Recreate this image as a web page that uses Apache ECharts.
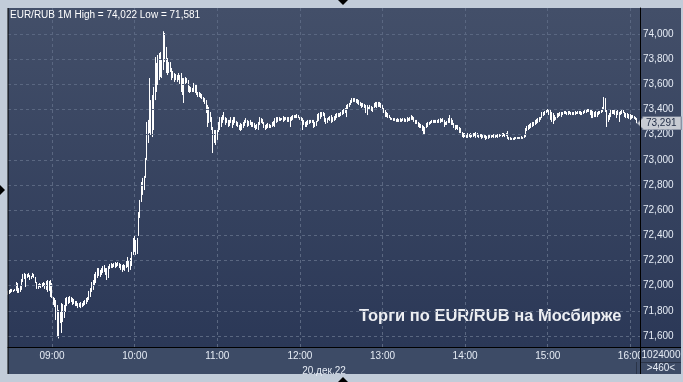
<!DOCTYPE html>
<html><head><meta charset="utf-8">
<script src="https://cdn.jsdelivr.net/npm/echarts@6/dist/echarts.min.js"></script>
<style>html,body{margin:0;padding:0;background:#c2ccd9;}#c{width:683px;height:382px;}</style>
</head><body><div id="c"></div>
<script>
// ---- data ----
const titleText = 'EUR/RUB 1M High = 74,022 Low = 71,581';
const dateLabel = '20.дек.22';
const watermark = 'Торги по EUR/RUB на Мосбирже';
const startTime = '08:28';
const barCount = 460;
const hourLabels = ['09:00','10:00','11:00','12:00','13:00','14:00','15:00','16:00'];
const yTicks = [71600,71800,72000,72200,72400,72600,72800,73000,73200,73400,73600,73800,74000];
const volumeText = '1024000';
const barsText = '>460<';
const lastPrice = 73291;

const highs = [
71958,71966,71974,71974,71966,71974,72029,72021,71981,71997,
72053,72093,72101,72093,72093,72101,72085,72077,72101,72093,
72069,72029,72013,72021,72013,72021,72029,72021,72037,72045,
72037,72045,72021,71910,71902,71886,71846,71807,71791,71862,
71854,71846,71902,71910,71910,71918,71910,71902,71894,71878,
71878,71862,71862,71870,71862,71878,71886,71902,71910,71958,
71981,72029,72045,72093,72109,72140,72140,72125,72140,72156,
72164,72140,72140,72156,72172,72180,72172,72180,72188,72180,
72188,72180,72172,72164,72172,72164,72196,72228,72204,72220,
72268,72379,72395,72363,72379,72585,72681,72824,72856,72872,
73015,73301,73317,73650,73475,73515,73579,73817,73770,73833,
73849,73857,73793,74022,74008,73897,73809,73777,73777,73730,
73706,73690,73682,73674,73690,73674,73690,73650,73650,73658,
73650,73634,73587,73579,73571,73611,73603,73595,73539,73539,
73531,73523,73499,73491,73475,73436,73420,73380,73340,73261,
73237,73237,73237,73301,73340,73340,73356,73380,73340,73332,
73317,73317,73340,73317,73340,73340,73309,73301,73277,73293,
73285,73301,73317,73332,73317,73309,73317,73301,73301,73293,
73277,73285,73301,73340,73332,73325,73301,73277,73285,73293,
73285,73277,73301,73309,73332,73340,73340,73340,73332,73332,
73348,73340,73340,73340,73340,73340,73348,73356,73356,73356,
73364,73356,73340,73340,73332,73317,73301,73309,73317,73317,
73317,73317,73317,73301,73309,73364,73372,73380,73380,73380,
73372,73332,73332,73340,73348,73356,73340,73348,73364,73372,
73372,73372,73380,73396,73404,73412,73436,73444,73452,73475,
73491,73491,73491,73483,73483,73475,73460,73452,73452,73444,
73436,73436,73420,73436,73428,73420,73452,73460,73460,73460,
73460,73452,73436,73412,73396,73380,73372,73356,73340,73332,
73332,73332,73325,73332,73325,73332,73325,73332,73332,73325,
73340,73332,73340,73356,73348,73340,73317,73317,73301,73293,
73285,73277,73269,73261,73293,73301,73301,73309,73317,73317,
73317,73317,73317,73325,73332,73325,73332,73317,73301,73309,
73332,73356,73332,73317,73293,73277,73277,73277,73261,73253,
73221,73213,73213,73205,73213,73205,73213,73205,73213,73213,
73221,73213,73205,73205,73205,73197,73197,73197,73189,73197,
73197,73197,73197,73205,73197,73197,73205,73205,73205,73213,
73213,73205,73213,73229,73181,73181,73174,73174,73181,73181,
73181,73181,73181,73189,73181,73197,73253,73269,73277,73285,
73293,73301,73301,73317,73325,73332,73340,73340,73380,73380,
73388,73396,73404,73404,73396,73380,73372,73356,73340,73372,
73372,73380,73380,73380,73388,73388,73380,73388,73388,73380,
73380,73380,73388,73380,73388,73388,73388,73380,73388,73396,
73396,73404,73404,73396,73396,73388,73380,73388,73380,73388,
73388,73396,73420,73499,73491,73396,73356,73372,73396,73396,
73396,73396,73388,73396,73380,73388,73396,73396,73380,73372,
73372,73364,73364,73356,73356,73348,73340,73332
];
const lows = [
71926,71934,71942,71950,71950,71958,71958,71942,71942,71950,
71966,72029,72053,71989,72061,72069,72045,72053,72069,72061,
72021,71974,71974,71989,71981,71989,71997,71974,71966,71950,
71958,71910,71902,71846,71830,71727,71592,71581,71703,71624,
71711,71743,71791,71838,71854,71862,71870,71846,71854,71838,
71838,71822,71830,71822,71830,71838,71846,71854,71870,71886,
71910,71950,71966,71997,72021,72061,72077,72069,72085,72101,
72109,72085,72045,72061,72133,72140,72140,72148,72140,72148,
72156,72140,72125,72109,72125,72117,72140,72148,72109,72125,
72156,72244,72268,72244,72252,72395,72538,72665,72721,72760,
72856,72999,73134,73213,73197,73181,73237,73475,73539,73595,
73634,73658,73650,73714,73777,73690,73674,73690,73698,73634,
73650,73619,73634,73619,73634,73603,73539,73515,73452,73603,
73611,73539,73531,73539,73539,73539,73531,73515,73499,73499,
73491,73483,73460,73444,73372,73261,73293,73301,73237,73054,
73134,73118,73158,73221,73237,73261,73293,73317,73277,73293,
73261,73269,73293,73253,73277,73293,73269,73261,73237,73229,
73237,73253,73269,73293,73261,73269,73277,73261,73261,73253,
73237,73245,73237,73277,73293,73285,73253,73237,73245,73253,
73253,73253,73261,73269,73261,73293,73301,73309,73309,73317,
73301,73309,73317,73301,73301,73261,73309,73317,73332,73332,
73332,73332,73317,73309,73237,73277,73261,73261,73277,73285,
73293,73293,73253,73261,73269,73301,73309,73325,73340,73348,
73301,73285,73293,73317,73309,73293,73301,73309,73317,73332,
73340,73340,73348,73356,73364,73372,73340,73404,73420,73436,
73452,73460,73460,73452,73444,73436,73428,73412,73420,73412,
73372,73356,73396,73396,73388,73380,73412,73420,73412,73420,
73420,73412,73396,73372,73340,73340,73332,73332,73317,73317,
73309,73309,73301,73301,73301,73301,73301,73309,73301,73301,
73301,73309,73309,73317,73317,73301,73285,73285,73261,73253,
73253,73229,73205,73205,73253,73261,73277,73285,73293,73293,
73293,73293,73293,73293,73293,73301,73301,73261,73277,73277,
73293,73293,73277,73277,73253,73237,73245,73237,73213,73213,
73181,73174,73181,73174,73174,73181,73174,73181,73181,73189,
73174,73181,73174,73181,73166,73174,73174,73158,73166,73166,
73174,73174,73181,73174,73174,73181,73174,73181,73189,73181,
73189,73181,73189,73166,73158,73158,73158,73158,73158,73166,
73166,73166,73166,73166,73166,73174,73181,73229,73237,73245,
73253,73261,73269,73277,73285,73293,73301,73317,73332,73348,
73356,73372,73380,73356,73317,73301,73285,73309,73317,73332,
73340,73348,73340,73356,73364,73364,73356,73356,73364,73356,
73356,73356,73356,73364,73364,73364,73356,73356,73364,73372,
73372,73380,73380,73356,73332,73332,73340,73340,73340,73356,
73364,73372,73380,73396,73380,73261,73301,73317,73340,73364,
73364,73356,73332,73356,73301,73356,73364,73372,73340,73332,
73332,73325,73317,73325,73332,73325,73317,73291
];

// ---- build ----
function pad2(n){return (n<10?'0':'')+n;}
const categories = [];
(function(){
  const p = startTime.split(':'); let m = (+p[0])*60 + (+p[1]);
  for (let i=0;i<barCount;i++){ categories.push(pad2(Math.floor((m+i)/60))+':'+pad2((m+i)%60)); }
})();
function fmt(v){ v=Math.round(v); const t=Math.floor(v/1000), r=v%1000; return t+','+(r<10?'00':r<100?'0':'')+r; }
const candles = lows.map((l,i)=>[l, highs[i], l, highs[i]]);
const isHour = (v)=>hourLabels.indexOf(v)>=0;

const FONT = '"Liberation Sans", Arial, sans-serif';
const TXT = '#e6ecf5';
const grad = {type:'linear',x:0,y:0,x2:0,y2:1,colorStops:[{offset:0,color:'#434f69'},{offset:1,color:'#2b3857'}]};

const chart = echarts.init(document.getElementById('c'), null, {renderer:'canvas'});
chart.setOption({
  animation:false,
  backgroundColor:'#c2ccd9',
  title:{text:titleText,left:10,top:10,padding:0,textStyle:{fontSize:10,fontWeight:'normal',color:'#ffffff',fontFamily:FONT}},
  grid:{left:8,right:43,top:8,bottom:35,containLabel:false},
  xAxis:{
    type:'category',data:categories,boundaryGap:false,z:1,
    axisLine:{show:true,lineStyle:{color:'#000',width:1}},
    axisTick:{show:false},
    axisLabel:{interval:(i,v)=>isHour(v),margin:4,color:TXT,fontSize:10,fontFamily:FONT},
    splitLine:{show:true,interval:(i,v)=>isHour(v),lineStyle:{color:'#5a6781',type:[3,3],width:1}},
    name:dateLabel,nameLocation:'middle',nameGap:11,nameTextStyle:{color:TXT,fontSize:10,fontFamily:FONT}
  },
  yAxis:{
    type:'value',position:'right',min:71512.6,max:74206.6,scale:true,z:4,
    axisLine:{show:true,lineStyle:{color:'#000',width:1}},
    axisTick:{show:false,customValues:yTicks},
    axisLabel:{customValues:yTicks,formatter:fmt,margin:3,color:TXT,fontSize:10,fontFamily:FONT},
    splitLine:{show:true,lineStyle:{color:'#5a6781',type:[3,3],width:1}}
  },
  series:[{
    type:'candlestick',data:candles,barWidth:1,z:3,
    itemStyle:{color:'#ffffff',borderColor:'#ffffff',color0:'#ffffff',borderColor0:'#ffffff',borderWidth:1},
    markPoint:{
      symbol:'path://M0,6.5 L5,1 L5,0 L40,0 L40,13 L5,13 L5,12 Z',
      symbolSize:[44,13],symbolKeepAspect:false,symbolOffset:['50%',0],
      itemStyle:{color:'#c7cbd3',borderColor:'#7d8699',borderWidth:0.6},
      label:{show:true,position:'inside',offset:[2,0],formatter:()=>fmt(lastPrice),color:'#1f2b44',fontSize:10,fontFamily:FONT},
      data:[{coord:[lows.length-1,lastPrice],value:lastPrice}]
    }
  }],
  graphic:{elements:[
    {id:'bgPlot',type:'rect',z:-10,shape:{x:8,y:8,width:632,height:339},style:{fill:grad}},
    {id:'bgAxis',type:'rect',z:-10,shape:{x:640,y:8,width:41,height:339},style:{fill:grad}},
    {id:'bgBottom',type:'rect',z:-10,shape:{x:8,y:347,width:673,height:27},style:{fill:'#3d4b66'}},
    {id:'coverBR',type:'rect',z:5,shape:{x:640.5,y:347.5,width:40.5,height:26.5},style:{fill:'#3d4b66'}},
    {id:'lnL',type:'line',z:6,shape:{x1:8,y1:8,x2:8,y2:374},style:{stroke:'#000',lineWidth:1}},
    {id:'lnR',type:'line',z:6,shape:{x1:640.5,y1:8,x2:640.5,y2:374},style:{stroke:'#000',lineWidth:1}},
    {id:'lnB',type:'line',z:6,shape:{x1:8,y1:347.5,x2:681,y2:347.5},style:{stroke:'#000',lineWidth:1}},
    {id:'lnBox1',type:'line',z:6,shape:{x1:641,y1:362.5,x2:681,y2:362.5},style:{stroke:'#2a3448',lineWidth:1}},
    {id:'lnBox2',type:'line',z:6,shape:{x1:636.5,y1:362,x2:636.5,y2:374},style:{stroke:'#2a3448',lineWidth:1}},
    {id:'txtVol',type:'text',z:7,x:661,y:355,style:{text:volumeText,fill:TXT,font:'10px '+FONT,textAlign:'center',textVerticalAlign:'middle'}},
    {id:'txtBars',type:'text',z:7,x:661,y:368,style:{text:barsText,fill:TXT,font:'10px '+FONT,textAlign:'center',textVerticalAlign:'middle'}},
    {id:'wm',type:'text',z:1,x:359,y:316,style:{text:watermark,fill:'#eceef2',font:'bold 16.5px '+FONT,textAlign:'left',textVerticalAlign:'middle'}},
    {id:'triT',type:'polygon',z:7,shape:{points:[[338,0],[348,0],[343,5]]},style:{fill:'#000'}},
    {id:'triB',type:'polygon',z:7,shape:{points:[[338,382],[348,382],[343,377]]},style:{fill:'#000'}},
    {id:'triL',type:'polygon',z:7,shape:{points:[[0,185],[0,195],[5,190]]},style:{fill:'#000'}}
  ]}
});
</script></body></html>
